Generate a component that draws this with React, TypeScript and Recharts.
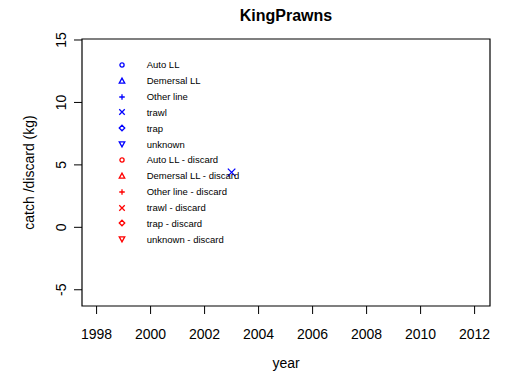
import React from 'react'
import {
    ScatterChart,
    Scatter,
    XAxis,
    YAxis,
    ReferenceArea,
    Legend,
} from 'recharts'

type Pt = { year: number; value: number }

// axis ticks
const yearTicks = [1998, 2000, 2002, 2004, 2006, 2008, 2010, 2012]
const catchTicks = [-5, 0, 5, 10, 15]

// catch records by gear (kg)
const autoLL: Pt[] = []
const demersalLL: Pt[] = []
const otherLine: Pt[] = []
const trawl: Pt[] = [{ year: 2003, value: 4.4 }]
const trap: Pt[] = []
const unknown: Pt[] = []

// discard records by gear (kg)
const autoLLDiscard: Pt[] = []
const demersalLLDiscard: Pt[] = []
const otherLineDiscard: Pt[] = []
const trawlDiscard: Pt[] = []
const trapDiscard: Pt[] = []
const unknownDiscard: Pt[] = []

type Kind = 'circle' | 'triangle' | 'plus' | 'cross' | 'diamond' | 'triangleDown'

const BLUE = '#0000ff'
const RED = '#ff0000'

const series: { name: string; data: Pt[]; kind: Kind; color: string }[] = [
    { name: 'Auto LL', data: autoLL, kind: 'circle', color: BLUE },
    { name: 'Demersal LL', data: demersalLL, kind: 'triangle', color: BLUE },
    { name: 'Other line', data: otherLine, kind: 'plus', color: BLUE },
    { name: 'trawl', data: trawl, kind: 'cross', color: BLUE },
    { name: 'trap', data: trap, kind: 'diamond', color: BLUE },
    { name: 'unknown', data: unknown, kind: 'triangleDown', color: BLUE },
    { name: 'Auto LL - discard', data: autoLLDiscard, kind: 'circle', color: RED },
    { name: 'Demersal LL - discard', data: demersalLLDiscard, kind: 'triangle', color: RED },
    { name: 'Other line - discard', data: otherLineDiscard, kind: 'plus', color: RED },
    { name: 'trawl - discard', data: trawlDiscard, kind: 'cross', color: RED },
    { name: 'trap - discard', data: trapDiscard, kind: 'diamond', color: RED },
    { name: 'unknown - discard', data: unknownDiscard, kind: 'triangleDown', color: RED },
]

const FONT = '"Liberation Sans", Arial, sans-serif'

const Mark = ({ kind, x, y, s, color }: { kind: Kind; x: number; y: number; s: number; color: string }) => {
    const h = s / 2
    const common = { fill: 'none', stroke: color, strokeWidth: 1.3 }
    switch (kind) {
        case 'circle':
            return <circle cx={x} cy={y} r={s * 0.38} {...common} />
        case 'triangle':
            return <polygon points={`${x},${y - h * 1.05} ${x - h},${y + h * 0.75} ${x + h},${y + h * 0.75}`} {...common} />
        case 'triangleDown':
            return <polygon points={`${x},${y + h * 1.05} ${x - h},${y - h * 0.75} ${x + h},${y - h * 0.75}`} {...common} />
        case 'plus':
            return <path d={`M${x - h},${y}H${x + h}M${x},${y - h}V${y + h}`} {...common} />
        case 'cross':
            return <path d={`M${x - h},${y - h}L${x + h},${y + h}M${x + h},${y - h}L${x - h},${y + h}`} {...common} />
        case 'diamond':
            return <polygon points={`${x},${y - h} ${x + h},${y} ${x},${y + h} ${x - h},${y}`} {...common} />
    }
    return null
}

const LegendBox = () => (
    <div style={{ fontFamily: FONT, fontSize: 9.5, color: '#000' }}>
        {series.map((s) => (
            <div key={s.name} style={{ display: 'flex', alignItems: 'center', height: 15.85 }}>
                <svg width={16} height={16} style={{ flexShrink: 0 }}>
                    <Mark kind={s.kind} x={8} y={8} s={5.5} color={s.color} />
                </svg>
                <span style={{ marginLeft: 17, whiteSpace: 'nowrap' }}>{s.name}</span>
            </div>
        ))}
    </div>
)

const XTick = (props: any) => {
    const { x, y, payload } = props
    return (
        <text x={x} y={y} dy={10} textAnchor="middle" fontSize={14} fontFamily={FONT} fill="#000">
            {payload.value}
        </text>
    )
}

const YTick = (props: any) => {
    const { x, y, payload } = props
    return (
        <text
            x={x}
            y={y}
            transform={`rotate(-90 ${x} ${y})`}
            textAnchor="middle"
            fontSize={14}
            fontFamily={FONT}
            fill="#000"
        >
            {payload.value}
        </text>
    )
}

const xDomain: [number, number] = [1997.46, 2012.57]
const yDomain: [number, number] = [-6.3, 15.08]

export default function App() {
    return (
        <div style={{ position: 'absolute', left: 0, top: 0, width: 513, height: 379, background: '#fff', fontFamily: FONT }}>
            <ScatterChart width={513} height={379} margin={{ top: 39, right: 23, bottom: 0, left: 0 }}>
                <text x={286} y={21} textAnchor="middle" fontSize={16} fontWeight="bold" fontFamily={FONT} fill="#000">
                    KingPrawns
                </text>
                <XAxis
                    type="number"
                    dataKey="year"
                    domain={xDomain}
                    allowDataOverflow
                    ticks={yearTicks}
                    height={73}
                    axisLine={false}
                    tickSize={8}
                    tickMargin={15}
                    tickLine={{ stroke: '#000' }}
                    tick={<XTick />}
                    label={(p: any) => {
                        const vb = p.viewBox
                        return (
                            <text x={vb.x + vb.width / 2} y={vb.y + 62} textAnchor="middle" fontSize={14} fontFamily={FONT} fill="#000">
                                year
                            </text>
                        )
                    }}
                />
                <YAxis
                    type="number"
                    dataKey="value"
                    domain={yDomain}
                    allowDataOverflow
                    ticks={catchTicks}
                    width={82}
                    axisLine={false}
                    tickSize={8}
                    tickMargin={7.5}
                    tickLine={{ stroke: '#000' }}
                    tick={<YTick />}
                    label={(p: any) => {
                        const vb = p.viewBox
                        const x = vb.x + 33.5
                        const y = vb.y + vb.height / 2
                        return (
                            <text x={x} y={y} transform={`rotate(-90 ${x} ${y})`} textAnchor="middle" fontSize={14} fontFamily={FONT} fill="#000">
                                catch /discard (kg)
                            </text>
                        )
                    }}
                />
                <ReferenceArea
                    x1={xDomain[0]}
                    x2={xDomain[1]}
                    y1={yDomain[0]}
                    y2={yDomain[1]}
                    fill="none"
                    fillOpacity={0}
                    stroke="#000"
                    strokeWidth={1.2}
                    ifOverflow="visible"
                />
                {series.map((s) => (
                    <Scatter
                        key={s.name}
                        name={s.name}
                        data={s.data}
                        fill={s.color}
                        isAnimationActive={false}
                        shape={(p: any) => <Mark kind={s.kind} x={p.cx} y={p.cy} s={7.5} color={s.color} />}
                    />
                ))}
                <Legend
                    layout="vertical"
                    align="center"
                    verticalAlign="middle"
                    wrapperStyle={{ left: 113.7, top: 57, width: 'auto' }}
                    content={() => <LegendBox />}
                />
            </ScatterChart>
        </div>
    )
}
